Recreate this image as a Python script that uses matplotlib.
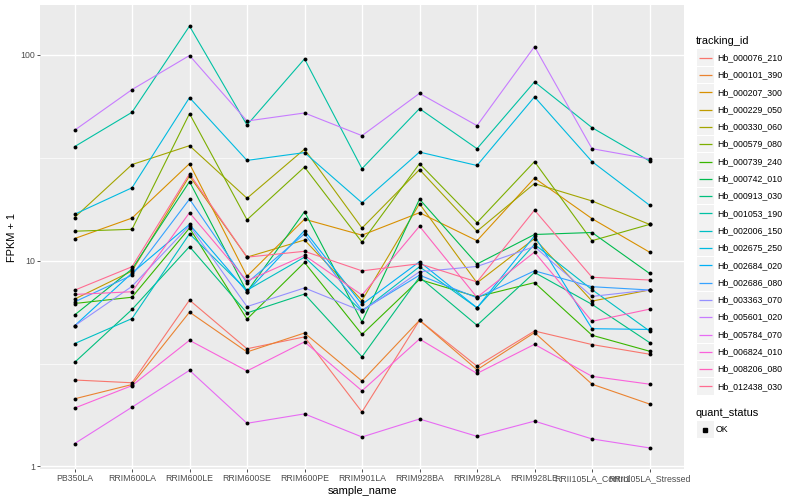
"""
FPKM + 1 per sample for a set of tracking ids (ggplot-like look)
"""

import math
import matplotlib
matplotlib.use("Agg")
import matplotlib.pyplot as plt
from matplotlib.patches import Rectangle
from matplotlib.ticker import FixedLocator, NullFormatter

plt.rcParams["font.family"] = ["Liberation Sans", "DejaVu Sans"]

samples = ["PB350LA", "RRIM600LA", "RRIM600LE", "RRIM600SE", "RRIM600PE",
           "RRIM901LA", "RRIM928BA", "RRIM928LA", "RRIM928LE",
           "RRII105LA_Control", "RRII105LA_Stressed"]

tracking_ids = ["Hb_000076_210", "Hb_000101_390", "Hb_000207_300", "Hb_000229_050",
                "Hb_000330_060", "Hb_000579_080", "Hb_000739_240", "Hb_000742_010",
                "Hb_000913_030", "Hb_001053_190", "Hb_002006_150", "Hb_002675_250",
                "Hb_002684_020", "Hb_002686_080", "Hb_003363_070", "Hb_005601_020",
                "Hb_005784_070", "Hb_006824_010", "Hb_008206_080", "Hb_012438_030"]

# ggplot default hue palette for 20 levels
colors = ["#F8766D", "#EA8331", "#D89000", "#C09B00", "#A3A500", "#7CAE00",
          "#39B600", "#00BB4E", "#00BF7D", "#00C1A3", "#00BFC4", "#00BAE0",
          "#00B0F6", "#35A2FF", "#9590FF", "#C77CFF", "#E76BF3", "#FA62DB",
          "#FF62BC", "#FF6C91"]

# FPKM + 1, one list per tracking id, in sample order
hb_000076_210 = [2.63, 2.55, 6.43, 3.73, 4.26, 1.84, 5.13, 3.07, 4.55, 3.91, 3.51]
hb_000101_390 = [2.13, 2.50, 5.62, 3.60, 4.45, 2.60, 5.13, 2.95, 4.47, 2.51, 2.01]
hb_000207_300 = [12.8, 16.1, 29.6, 8.4, 15.9, 13.3, 17.1, 12.5, 25.2, 16.0, 11.0]
hb_000229_050 = [6.5, 8.9, 25.8, 10.4, 12.6, 6.4, 18.9, 7.8, 12.8, 6.36, 7.2]
hb_000330_060 = [16.2, 29.3, 36.2, 20.1, 34.8, 14.4, 27.7, 13.9, 23.7, 19.5, 15.0]
hb_000579_080 = [13.9, 14.2, 51.8, 15.8, 28.5, 12.3, 29.6, 15.3, 30.3, 12.5, 15.0]
hb_000739_240 = [6.19, 6.64, 14.4, 5.2, 9.8, 4.38, 8.1, 6.67, 7.82, 4.34, 3.63]
hb_000742_010 = [5.44, 9.1, 24.2, 7.06, 17.3, 5.04, 19.9, 9.63, 13.4, 13.7, 8.67]
hb_000913_030 = [3.2, 5.79, 11.7, 5.57, 6.88, 3.41, 8.32, 4.85, 8.76, 6.13, 4.0]
hb_001053_190 = [35.8, 52.6, 138.0, 45.6, 95.6, 28.0, 54.8, 35.0, 73.9, 44.3, 30.5]
hb_002006_150 = [3.95, 5.23, 13.5, 7.18, 10.4, 5.68, 9.34, 5.9, 12.0, 7.23, 4.55]
hb_002675_250 = [16.8, 22.6, 62.0, 30.7, 33.5, 19.1, 33.7, 29.0, 62.5, 30.3, 18.6]
hb_002684_020 = [4.82, 8.7, 15.0, 7.06, 14.0, 6.13, 9.88, 5.9, 13.2, 4.67, 4.63]
hb_002686_080 = [6.3, 8.5, 19.9, 7.8, 13.5, 5.74, 8.5, 6.6, 8.92, 7.47, 7.2]
hb_003363_070 = [4.82, 7.5, 14.8, 5.98, 7.37, 5.68, 8.83, 9.37, 11.7, 6.7, 7.2]
hb_005601_020 = [43.0, 67.8, 99.3, 47.7, 52.2, 40.5, 65.0, 45.3, 109.7, 35.0, 31.2]
hb_005784_070 = [1.29, 1.94, 2.93, 1.62, 1.80, 1.39, 1.70, 1.40, 1.66, 1.36, 1.23]
hb_006824_010 = [1.92, 2.47, 4.10, 2.91, 4.03, 2.33, 4.16, 2.83, 3.92, 2.74, 2.51]
hb_008206_080 = [6.85, 7.06, 17.1, 7.97, 10.6, 6.8, 14.7, 6.63, 11.0, 5.07, 5.81]
hb_012438_030 = [7.18, 9.34, 26.4, 10.4, 11.1, 8.92, 9.66, 7.88, 17.6, 8.3, 8.05]

series = [hb_000076_210, hb_000101_390, hb_000207_300, hb_000229_050, hb_000330_060,
          hb_000579_080, hb_000739_240, hb_000742_010, hb_000913_030, hb_001053_190,
          hb_002006_150, hb_002675_250, hb_002684_020, hb_002686_080, hb_003363_070,
          hb_005601_020, hb_005784_070, hb_006824_010, hb_008206_080, hb_012438_030]

W, H = 800, 500
fig = plt.figure(figsize=(W / 100, H / 100), dpi=100)
ax = fig.add_axes([40 / W, 1 - 469 / H, 644 / W, 464 / H])
ax.set_facecolor("#EBEBEB")
for s in ax.spines.values():
    s.set_visible(False)

x = list(range(len(samples)))
for vals, c in zip(series, colors):
    ax.plot(x, vals, color=c, lw=0.8, zorder=2)
for vals in series:
    ax.plot(x, vals, "o", color="black", ms=2.8, zorder=3, mec="none")

ax.set_yscale("log")
allv = [v for vals in series for v in vals]
lo, hi = math.log10(min(allv)), math.log10(max(allv))
pad = (hi - lo) * 0.05
ax.set_ylim(10 ** (lo - pad), 10 ** (hi + pad))
ax.set_xlim(-0.6, len(samples) - 0.4)

ax.yaxis.set_major_locator(FixedLocator([1, 10, 100]))
ax.yaxis.set_minor_locator(FixedLocator([10 ** 0.5, 10 ** 1.5]))
ax.yaxis.set_minor_formatter(NullFormatter())
ax.set_yticklabels(["1", "10", "100"])
ax.set_xticks(x)
ax.set_xticklabels(samples)

ax.grid(True, which="major", color="white", lw=1.0, zorder=0)
ax.grid(True, which="minor", axis="y", color="white", lw=0.5, zorder=0)
ax.set_axisbelow(True)
ax.tick_params(which="major", length=2.0, width=0.6, color="#333333",
               labelcolor="#4D4D4D", labelsize=6.3, pad=1.6)
ax.tick_params(which="minor", length=0)

ax.set_xlabel("sample_name", fontsize=7.9, labelpad=2)
ax.set_ylabel("FPKM + 1", fontsize=7.9, labelpad=2)

# legend drawn by hand in an overlay axes using pixel coordinates (y down)
lg = fig.add_axes([0, 0, 1, 1], zorder=5)
lg.set_xlim(0, W)
lg.set_ylim(H, 0)
lg.axis("off")

lg.text(696, 41, "tracking_id", fontsize=7.9, va="center", ha="left")
step = 17.3
key = 16.6
for i, (tid, c) in enumerate(zip(tracking_ids, colors)):
    cy = 57.7 + i * step
    lg.add_patch(Rectangle((697, cy - key / 2), key, key,
                           facecolor="#F2F2F2", edgecolor="none", zorder=1))
    lg.plot([699, 712], [cy, cy], color=c, lw=0.9, zorder=3,
            solid_capstyle="butt")
    lg.text(717, cy, tid, fontsize=6.3, va="center", ha="left")

lg.text(696, 413, "quant_status", fontsize=7.9, va="center", ha="left")
cy = 429.5
lg.add_patch(Rectangle((697, cy - key / 2), key, key,
                       facecolor="#F2F2F2", edgecolor="none", zorder=1))
lg.plot([705.3], [cy], "s", color="black", ms=2.5, zorder=3)
lg.text(716, cy, "OK", fontsize=6.3, va="center", ha="left")

fig.savefig("out.png", dpi=100)
